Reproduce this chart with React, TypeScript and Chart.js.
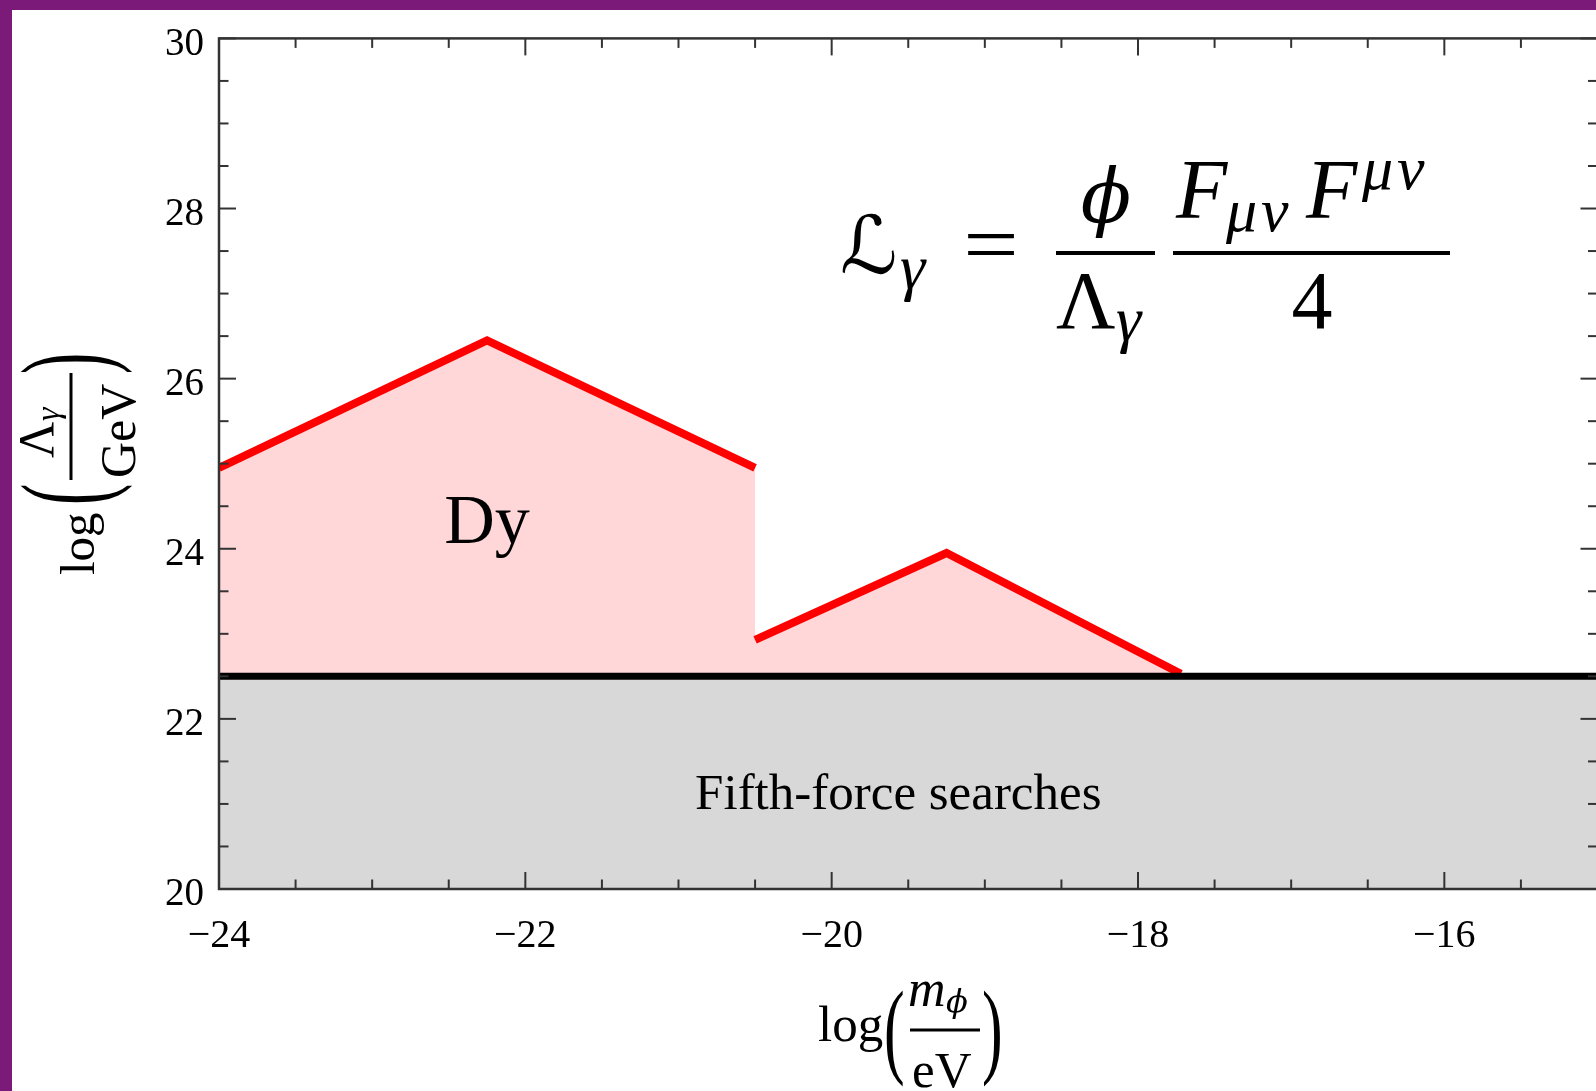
import React, { useEffect, useRef } from 'react';
import { Chart, registerables } from 'chart.js';

Chart.register(...registerables);

// Axis ranges: log10(m_phi / eV) horizontally, log10(Lambda_gamma / GeV) vertically
const X_MIN = -24;
const X_MAX = -15;
const Y_MIN = 20;
const Y_MAX = 30;
const MAJOR_STEP = 2;
const MINOR_STEP = 0.5;

// Dysprosium bound, two segments
const dyHighMass = [-24, -22.25, -20.5];
const dyHighLambda = [24.95, 26.45, 24.95];
const dyLowMass = [-20.5, -19.25, -17.72];
const dyLowLambda = [22.93, 23.95, 22.53];

// Fifth-force bound
const fifthForceMass = [-24, -15];
const fifthForceLambda = [22.5, 22.5];

const DY_LABEL = 'Dy';
const FIFTH_LABEL = 'Fifth-force searches';

const PURPLE = '#7b1a78';
const SERIF = '"Liberation Serif", "Times New Roman", serif';
const up = (px: number) => `${px}px ${SERIF}`;
const it = (px: number) => `italic ${px}px ${SERIF}`;

const pts = (xs: number[], ys: number[]) => xs.map((x, i) => ({ x, y: ys[i] }));

const fmtTick = (v: number) => (v < 0 ? '\u2212' + Math.abs(v) : String(v));

// Draws a glyph stretched vertically to a given height, centred on cy
function stretched(ctx: CanvasRenderingContext2D, s: string, x: number, cy: number, px: number, height: number) {
  ctx.save();
  ctx.font = up(px);
  ctx.textAlign = 'left';
  ctx.textBaseline = 'alphabetic';
  const m = ctx.measureText(s);
  const h = m.actualBoundingBoxAscent + m.actualBoundingBoxDescent;
  ctx.translate(x, cy);
  ctx.scale(1, height / h);
  ctx.fillText(s, 0, (m.actualBoundingBoxAscent - m.actualBoundingBoxDescent) / 2);
  ctx.restore();
}

function text(ctx: CanvasRenderingContext2D, s: string, x: number, y: number, font: string, align: CanvasTextAlign = 'left', sx = 1) {
  ctx.save();
  ctx.font = font;
  ctx.textAlign = align;
  ctx.textBaseline = 'alphabetic';
  ctx.translate(x, y);
  ctx.scale(sx, 1);
  ctx.fillText(s, 0, 0);
  ctx.restore();
}

const frameAndTicks = {
  id: 'frameAndTicks',
  afterDatasetsDraw(chart: any) {
    const { ctx, chartArea: a, scales } = chart;
    const xs = scales.x;
    const ys = scales.y;
    ctx.save();
    ctx.strokeStyle = '#333';
    ctx.lineWidth = 2;
    const seg = (x1: number, y1: number, x2: number, y2: number) => {
      ctx.beginPath();
      ctx.moveTo(x1, y1);
      ctx.lineTo(x2, y2);
      ctx.stroke();
    };
    const isMajor = (v: number) => Math.abs(v / MAJOR_STEP - Math.round(v / MAJOR_STEP)) < 1e-9;
    for (let v = X_MIN; v <= X_MAX + 1e-9; v += MINOR_STEP) {
      const p = xs.getPixelForValue(v);
      const len = isMajor(v) ? 17 : 9.5;
      seg(p, a.top, p, a.top + len);
      seg(p, a.bottom, p, a.bottom - len);
    }
    for (let v = Y_MIN; v <= Y_MAX + 1e-9; v += MINOR_STEP) {
      const p = ys.getPixelForValue(v);
      const len = isMajor(v) ? 17 : 9.5;
      seg(a.left, p, a.left + len, p);
      seg(a.right, p, a.right - len, p);
    }
    ctx.lineWidth = 2.5;
    ctx.strokeRect(a.left, a.top, a.right - a.left, a.bottom - a.top);
    ctx.restore();
  },
};

const annotations = {
  id: 'annotations',
  afterDraw(chart: any) {
    const { ctx, scales } = chart;
    const xs = scales.x;
    const ys = scales.y;
    ctx.save();
    ctx.fillStyle = '#000';

    // region labels
    text(ctx, DY_LABEL, xs.getPixelForValue(-22.25), ys.getPixelForValue(24.07), up(70), 'center');
    text(ctx, FIFTH_LABEL, xs.getPixelForValue(-19.565), ys.getPixelForValue(20.94), up(51), 'center');

    // L_gamma = (phi / Lambda_gamma) (F_{mu nu} F^{mu nu} / 4)
    text(ctx, '\u2112', 840, 273, `italic 80px "DejaVu Serif", "DejaVu Sans", ${SERIF}`);
    text(ctx, 'γ', 900, 288, it(64));
    text(ctx, '=', 991, 272, up(82), 'center', 1.2);
    ctx.fillRect(1056, 251, 99, 4);
    text(ctx, '\u03D5', 1106, 222, `italic 74px "DejaVu Serif", ${SERIF}`, 'center');
    text(ctx, 'Λ', 1056, 328, up(82));
    text(ctx, 'γ', 1116, 340, it(64));
    ctx.fillRect(1173, 251, 277, 4);
    text(ctx, 'F', 1176, 218, it(84));
    text(ctx, 'μ', 1226, 231, it(62));
    text(ctx, 'ν', 1261, 231, it(62));
    text(ctx, 'F', 1306, 218, it(84));
    text(ctx, 'μ', 1362, 189, it(62));
    text(ctx, 'ν', 1397, 189, it(62));
    text(ctx, '4', 1312, 328, up(82), 'center');

    // x-axis title: log(m_phi / eV)
    text(ctx, 'log', 818, 1041, up(51));
    stretched(ctx, '(', 884, 1039, 62, 98);
    text(ctx, 'm', 908, 1006, it(52));
    text(ctx, '\u03D5', 946, 1012, `italic 32px "DejaVu Serif", ${SERIF}`);
    ctx.fillRect(910, 1028.5, 70, 3);
    text(ctx, 'eV', 912, 1087, up(51));
    stretched(ctx, ')', 982, 1039, 62, 98);

    // y-axis title: log(Lambda_gamma / GeV), rotated
    ctx.translate(72, 463);
    ctx.rotate(-Math.PI / 2);
    text(ctx, 'log', -112, 22, up(49));
    stretched(ctx, '(', -42, 4.5, 64, 113);
    ctx.fillRect(-17, -2.5, 107, 3);
    text(ctx, 'Λ', 5, -19, up(50));
    text(ctx, 'γ', 42, -13, it(34));
    text(ctx, 'GeV', -15, 63, up(50));
    stretched(ctx, ')', 89, 4.5, 64, 113);

    ctx.restore();
  },
};

export default function App() {
  const ref = useRef<HTMLCanvasElement | null>(null);

  useEffect(() => {
    const canvas = ref.current;
    if (!canvas) return;
    const chart = new Chart(canvas, {
      type: 'line',
      data: {
        datasets: [
          {
            label: 'Dy region',
            data: [...pts(dyHighMass, dyHighLambda), ...pts(dyLowMass, dyLowLambda)],
            borderWidth: 0,
            backgroundColor: '#ffd7d9',
            fill: { value: fifthForceLambda[0] },
            pointRadius: 0,
            order: 4,
          },
          {
            label: 'Dy high',
            data: pts(dyHighMass, dyHighLambda),
            borderColor: '#ff0000',
            borderWidth: 8,
            fill: false,
            pointRadius: 0,
            order: 3,
          },
          {
            label: 'Dy low',
            data: pts(dyLowMass, dyLowLambda),
            borderColor: '#ff0000',
            borderWidth: 8,
            fill: false,
            pointRadius: 0,
            order: 2,
          },
          {
            label: 'Fifth force',
            data: pts(fifthForceMass, fifthForceLambda),
            borderColor: '#000000',
            borderWidth: 7,
            backgroundColor: '#d8d8d8',
            fill: { value: Y_MIN },
            pointRadius: 0,
            order: 1,
          },
        ],
      },
      options: {
        animation: false,
        responsive: false,
        devicePixelRatio: 1,
        events: [],
        layout: { padding: { left: 0, top: 37, right: 1620 - 1597.5, bottom: 0 } },
        plugins: { legend: { display: false }, tooltip: { enabled: false } },
        scales: {
          x: {
            type: 'linear',
            min: X_MIN,
            max: X_MAX,
            grid: { display: false, drawTicks: false },
            border: { display: false },
            ticks: {
              stepSize: MAJOR_STEP,
              includeBounds: false,
              autoSkip: false,
              maxRotation: 0,
              padding: 23,
              color: '#000',
              font: { family: 'Liberation Serif', size: 40 },
              callback: (v: any) => fmtTick(Number(v)),
            },
            afterFit: (s: any) => {
              s.height = 1091 - 889;
            },
          },
          y: {
            type: 'linear',
            min: Y_MIN,
            max: Y_MAX,
            grid: { display: false, drawTicks: false },
            border: { display: false },
            ticks: {
              stepSize: MAJOR_STEP,
              includeBounds: false,
              padding: 15,
              labelOffset: 6,
              color: '#000',
              font: { family: 'Liberation Serif', size: 39 },
              callback: (v: any) => fmtTick(Number(v)),
            },
            afterFit: (s: any) => {
              s.width = 219;
            },
          },
        },
      },
      plugins: [frameAndTicks, annotations],
    });
    return () => chart.destroy();
  }, []);

  return (
    <div style={{ position: 'fixed', left: 0, top: 0, width: 1596, height: 1091, overflow: 'hidden', background: '#fff' }}>
      <canvas ref={ref} width={1620} height={1091} style={{ position: 'absolute', left: 0, top: 0, width: 1620, height: 1091 }} />
      <div style={{ position: 'absolute', left: 0, top: 0, width: 1596, height: 10, background: PURPLE }} />
      <div style={{ position: 'absolute', left: 0, top: 0, width: 12, height: 1091, background: PURPLE }} />
    </div>
  );
}
